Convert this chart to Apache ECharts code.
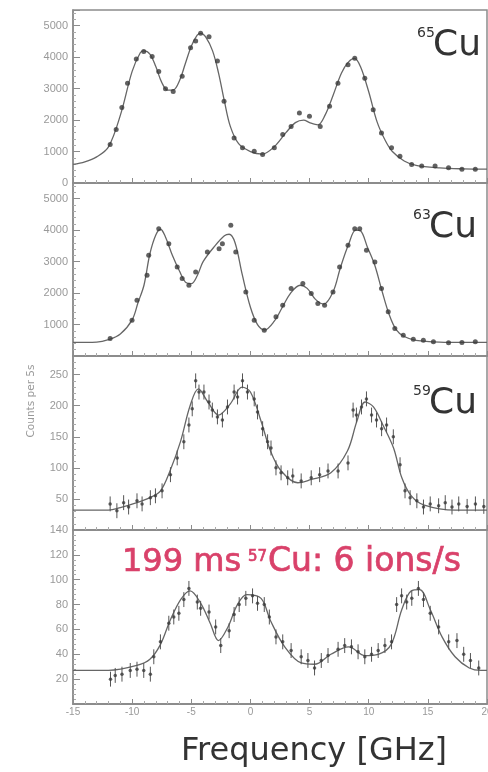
<!DOCTYPE html>
<html>
<head>
<meta charset="utf-8">
<script src="https://cdn.jsdelivr.net/npm/echarts@6/dist/echarts.min.js"></script>
<style>
  html, body { margin: 0; padding: 0; background: #fff; }
  #chart { width: 488px; height: 772px; }
</style>
</head>
<body>
<div id="chart"></div>
<script>
// ---- data ----
// 65Cu
var freq65 = [-11.86,-11.35,-10.87,-10.39,-9.65,-9.02,-8.31,-7.75,-7.18,-6.53,-5.77,-5.06,-4.63,-4.21,-3.5,-2.79,-2.23,-1.38,-0.67,0.32,1.03,2.02,2.73,3.44,4.14,4.99,5.9,6.69,7.4,8.25,8.82,9.67,10.38,11.08,11.93,12.64,13.63,14.48,15.61,16.75,17.88,19.01];
var counts65 = [1225,1700,2400,3175,3945,4180,4020,3545,3000,2910,3390,4300,4515,4760,4650,3880,2600,1430,1120,1010,910,1120,1540,1800,2225,2120,1800,2440,3170,3760,3965,3330,2330,1590,1120,850,590,540,540,485,435,435];
var fitFreq65 = [-15,-14,-13,-12,-11,-10,-9.3,-9,-8.5,-8,-7.5,-7,-6.5,-6,-5.5,-5,-4.5,-4.2,-3.8,-3.2,-2.7,-2.2,-1.7,-1,0,1,2,3,3.8,4.5,5,5.7,6.3,7,7.7,8.3,8.8,9.3,10,10.7,11.4,12,13,14,16,18,20];
var fitCounts65 = [590,670,830,1150,2150,3550,4150,4200,4100,3700,3200,2950,2960,3250,3800,4350,4700,4760,4650,4200,3500,2600,1800,1250,1000,920,1150,1600,1920,2000,1920,1850,2150,2800,3500,3850,3960,3700,2900,1950,1350,1000,700,560,480,450,440];

// 63Cu
var freq63 = [-11.86,-10.01,-9.59,-8.74,-8.6,-7.75,-6.9,-6.19,-5.77,-5.2,-4.63,-3.64,-2.65,-2.37,-1.66,-1.24,-0.39,0.32,1.17,2.16,2.73,3.44,4.43,5.14,5.7,6.27,6.98,7.54,8.25,8.82,9.24,9.81,10.52,11.08,11.65,12.21,12.92,13.77,14.62,15.47,16.75,17.88,19.01];
var counts63 = [556,1137,1772,2565,3200,4048,3572,2832,2461,2248,2673,3308,3413,3572,4153,3308,2038,1137,819,1245,1613,2143,2302,1984,1667,1613,2038,2832,3518,4048,4048,3359,2991,2143,1403,873,660,534,502,450,418,430,450];
var fitFreq63 = [-15,-13,-12,-11,-10,-9.5,-9,-8.5,-8,-7.6,-7.2,-6.6,-6,-5.5,-5,-4.5,-4,-3,-2.2,-1.8,-1.3,-0.7,0,0.6,1.2,2,2.7,3.4,4.2,4.8,5.5,6.2,7,7.6,8.3,8.9,9.3,9.9,10.5,11.1,11.7,12.3,13,14,16,18,20];
var fitCounts63 = [430,440,520,700,1150,1700,2250,3250,3850,4030,3800,3200,2700,2350,2300,2550,3000,3500,3820,3870,3600,2600,1550,1000,830,1100,1550,2000,2250,2150,1800,1650,2050,2800,3550,4000,3980,3450,2900,2100,1350,850,620,500,440,430,430];

// 59Cu
var freq59 = [-11.86,-11.29,-10.72,-10.3,-9.59,-9.16,-8.46,-8.03,-7.47,-6.76,-6.19,-5.63,-5.2,-4.92,-4.63,-4.35,-3.93,-3.5,-3.22,-2.79,-2.37,-1.94,-1.38,-1.09,-0.67,-0.25,0.32,0.6,1.03,1.45,1.74,2.16,2.59,3.15,3.58,4.29,5.14,5.85,6.56,7.41,8.25,8.68,8.96,9.39,9.81,10.24,10.66,11.09,11.51,12.08,12.65,13.07,13.5,14.07,14.63,15.2,15.91,16.47,17.04,17.61,18.32,19.02,19.73];
var counts59 = [42,31,44,37,47,42,52,55,63,89,116,142,169,195,240,222,222,206,193,182,177,198,222,214,240,222,211,190,163,142,132,100,92,84,87,79,84,89,95,95,108,193,185,198,211,185,177,163,169,150,105,63,52,47,37,42,39,44,37,42,38,42,38];
var fitFreq59 = [-15,-12,-11,-9.6,-8.5,-7.6,-6.8,-5.9,-5.1,-4.4,-3.6,-2.7,-1.7,-0.7,0,0.9,1.7,2.6,4,5.1,6.8,8.2,9,9.7,10.4,11.2,12.1,12.8,13.6,14.7,17.3,20];
var fitCounts59 = [32,32,36,44,52,63,95,143,200,227,206,185,203,230,222,175,127,95,76,81,92,127,175,206,198,169,132,84,55,40,32,32];

// 57Cu
var freq57 = [-11.83,-11.43,-10.86,-10.16,-9.59,-9.02,-8.46,-8.17,-7.61,-6.9,-6.48,-6.05,-5.63,-5.2,-4.49,-4.21,-3.5,-2.94,-2.51,-1.8,-1.38,-0.95,-0.39,0.18,0.6,1.17,1.6,2.16,2.73,3.44,4.29,4.86,5.42,5.99,6.56,7.41,7.97,8.54,9.1,9.67,10.24,10.8,11.37,11.93,12.36,12.78,13.21,13.64,14.2,14.63,15.2,15.91,16.76,17.46,18.03,18.6,19.3];
var counts57 = [20,23,24,27,28,27,24,38,50,65,70,73,84,93,82,77,74,62,47,59,72,80,85,87,81,80,70,54,50,43,38,35,29,35,39,44,47,46,42,38,40,43,47,50,80,87,82,85,93,84,73,62,50,51,40,35,29];
var fitFreq57 = [-15,-12,-9.6,-8.5,-7.6,-6.8,-5.9,-5.1,-4.2,-3.4,-2.7,-1.9,-1.1,-0.3,0.9,1.7,2.9,4.3,5.4,6.8,8.3,9.7,10.8,11.9,12.8,13.6,14.3,15.2,16.2,17.3,18.5,19.5,20];
var fitCounts57 = [27,27,31,36,48,67,84,91,81,65,51,62,80,88,85,67,46,33,32,40,46,39,40,48,76,91,92,76,54,38,29,27,27];

// axis settings per panel
var yMax = [5500, 5500, 280, 140];
var yStep = [1000, 1000, 50, 20];
var errHalf = [0, 0, 12, 6];
var xTicks = ['-15', '-10', '-5', '0', '5', '10', '15', '20'];

var panels = [
  [freq65, counts65, fitFreq65, fitCounts65],
  [freq63, counts63, fitFreq63, fitCounts63],
  [freq59, counts59, fitFreq59, fitCounts59],
  [freq57, counts57, fitFreq57, fitCounts57]
];

function pairs(a, b) {
  var out = [];
  for (var i = 0; i < a.length; i++) out.push([a[i], b[i]]);
  return out;
}

var chart = echarts.init(document.getElementById('chart'));

var tops = [10, 183, 356, 530];
var heights = [173, 173, 174, 174];
var axisGray = '#8c8c8c';

var grids = [], xAxes = [], yAxes = [], series = [];
panels.forEach(function (p, i) {
  grids.push({ left: 73, right: 1, top: tops[i], height: heights[i], outerBoundsMode: 'none', show: true, borderColor: axisGray, borderWidth: 1.5, backgroundColor: 'transparent' });
  xAxes.push({
    type: 'value', gridIndex: i, min: -15, max: 20, interval: 5,
    axisLine: { show: true, onZero: false, lineStyle: { color: axisGray, width: 2 } },
    axisTick: { show: true, inside: true, length: 5, lineStyle: { color: axisGray } },
    minorTick: { show: true, splitNumber: 5, length: 3, lineStyle: { color: '#aaa' } },
    splitLine: { show: false },
    axisLabel: {
      show: i === 3, color: '#999', fontSize: 10, margin: 3,
      formatter: function (v) { return xTicks[(v + 15) / 5]; }
    }
  });
  yAxes.push({
    type: 'value', gridIndex: i, min: 0, max: yMax[i], interval: yStep[i],
    axisLine: { show: true, onZero: false, lineStyle: { color: axisGray, width: 1.5 } },
    axisTick: { show: true, inside: true, length: 7, lineStyle: { color: axisGray } },
    minorTick: { show: true, splitNumber: 5, length: 3, lineStyle: { color: '#aaa' } },
    splitLine: { show: false },
    axisLabel: {
      color: '#999', fontSize: 11, margin: 5,
      showMinLabel: i === 0,
      formatter: function (v) { return (v % yStep[i] === 0 && v <= yMax[i]) ? String(v) : ''; }
    }
  });
  series.push({
    type: 'line', xAxisIndex: i, yAxisIndex: i, data: pairs(p[2], p[3]),
    smooth: 0.35, showSymbol: false, lineStyle: { color: '#666', width: 1.3 }, z: 2
  });
  series.push({
    type: 'scatter', xAxisIndex: i, yAxisIndex: i, data: pairs(p[0], p[1]),
    symbol: 'circle', symbolSize: i < 2 ? 5 : 3.5, itemStyle: { color: '#3a3a3a' }, z: 3
  });
  if (errHalf[i] > 0) {
    series.push({
      type: 'custom', xAxisIndex: i, yAxisIndex: i, data: pairs(p[0], p[1]), z: 3,
      renderItem: function (params, api) {
        var x = api.value(0), y = api.value(1);
        var a = api.coord([x, y - errHalf[i]]);
        var b = api.coord([x, y + errHalf[i]]);
        return { type: 'line', shape: { x1: a[0], y1: a[1], x2: b[0], y2: b[1] }, style: { stroke: '#555', lineWidth: 1 } };
      }
    });
  }
});

var labelFont = 'DejaVu Sans';
function isotope(mass, x, y) {
  return [
    { type: 'text', x: x, y: y, style: { text: mass, font: '14px ' + labelFont, fill: '#333' } },
    { type: 'text', x: x + 16, y: y + 2, style: { text: 'Cu', font: '36px ' + labelFont, fill: '#333' } }
  ];
}

var red = '#d9416a';
var redStyle = { fill: red, stroke: red, lineWidth: 0.7 };
var option = {
  animation: false,
  backgroundColor: '#fff',
  grid: grids,
  xAxis: xAxes,
  yAxis: yAxes,
  series: series,
  graphic: [].concat(
    isotope('65', 417, 26),
    isotope('63', 413, 208),
    isotope('59', 413, 384),
    [
      { type: 'text', x: 122, y: 547, style: Object.assign({ text: '199 ms', font: '32px ' + labelFont }, redStyle) },
      { type: 'text', x: 248, y: 550, style: Object.assign({ text: '57', font: '15px ' + labelFont }, redStyle) },
      { type: 'text', x: 268, y: 546, style: Object.assign({ text: 'Cu: 6 ions/s', font: '33px ' + labelFont }, redStyle) },
      { type: 'text', x: 31, y: 401, rotation: Math.PI / 2, style: { text: 'Counts per 5s', font: '10.5px ' + labelFont, fill: '#999', align: 'center', verticalAlign: 'middle' } },
      { type: 'text', x: 314, y: 752, style: { text: 'Frequency [GHz]', font: '32px ' + labelFont, fill: '#333', align: 'center', verticalAlign: 'middle' } }
    ]
  )
};

chart.setOption(option);
</script>
</body>
</html>
